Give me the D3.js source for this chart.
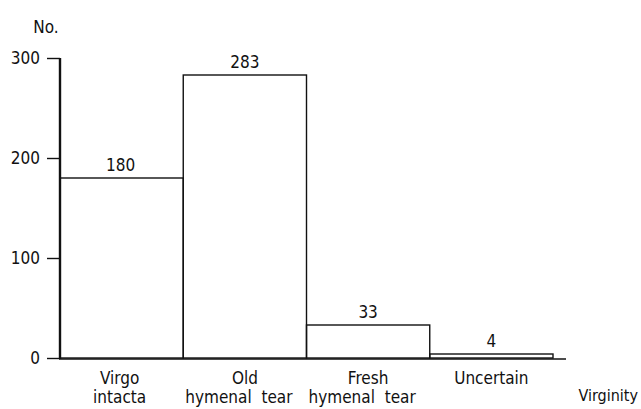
<!DOCTYPE html>
<html><head><meta charset="utf-8">
<script src="https://cdn.jsdelivr.net/npm/d3@7"></script>
<style>body{margin:0;background:#fff}svg{display:block}
text{font-family:"DejaVu Sans Condensed","DejaVu Sans",sans-serif;font-stretch:condensed;fill:#111}</style>
</head><body><svg id="c" width="641" height="409"></svg>
<script>
const categories = ["Virgo intacta","Old hymenal tear","Fresh hymenal tear","Uncertain"];
const labelLine1 = ["Virgo","Old","Fresh","Uncertain"];
const labelLine2 = ["intacta","hymenal  tear","hymenal  tear",""];
const values = [180, 283, 33, 4];
const yTicks = [0, 100, 200, 300];

const FS = 17;
const svg = d3.select("#c");
const x = d3.scaleBand().domain(categories).range([60, 553]).padding(0);
const y = d3.scaleLinear().domain([0, 300]).range([358, 58]);

// bars
svg.selectAll("rect.bar").data(values).join("rect")
  .attr("x", (d,i) => x(categories[i]))
  .attr("y", d => y(d))
  .attr("width", x.bandwidth())
  .attr("height", d => y(0) - y(d))
  .attr("fill", "none").attr("stroke", "#111").attr("stroke-width", 1.4);

// value labels
svg.selectAll("text.val").data(values).join("text")
  .attr("x", (d,i) => x(categories[i]) + x.bandwidth()/2 + (i===0?-1:0))
  .attr("y", d => y(d) - 7)
  .attr("text-anchor", "middle").attr("font-size", FS)
  .text(d => d);

// y axis
const yAxis = d3.axisLeft(y).tickValues(yTicks).tickSize(13).tickPadding(7);
const gy = svg.append("g").attr("transform", "translate(60,0)").call(yAxis);
gy.select(".domain").remove();
gy.selectAll(".tick line").attr("stroke", "#111").attr("stroke-width", 1.4);
gy.selectAll(".tick text").attr("font-size", FS).attr("font-family", null).attr("fill", "#111");
gy.attr("font-family", null).attr("font-size", null);
svg.append("line").attr("x1", 60).attr("x2", 60).attr("y1", y(300)).attr("y2", y(0)+1)
  .attr("stroke", "#111").attr("stroke-width", 2.4);

// x baseline
svg.append("line").attr("x1", 59).attr("x2", 566).attr("y1", y(0)+1).attr("y2", y(0)+1)
  .attr("stroke", "#111").attr("stroke-width", 1.6);

// category labels
svg.selectAll("text.c1").data(labelLine1).join("text")
  .attr("x", (d,i) => x(categories[i]) + x.bandwidth()/2 + (i===0?-2:0))
  .attr("y", 384).attr("text-anchor", "middle").attr("font-size", FS)
  .text(d => d);
svg.selectAll("text.c2").data(labelLine2).join("text")
  .attr("x", (d,i) => x(categories[i]) + x.bandwidth()/2 + (i===0?-2:-6))
  .attr("y", 403).attr("text-anchor", "middle").attr("font-size", FS)
  .attr("xml:space", "preserve").style("white-space", "pre")
  .text(d => d);

// axis titles
svg.append("text").attr("x", 46).attr("y", 33).attr("text-anchor", "middle").attr("font-size", FS).text("No.");
svg.append("text").attr("x", 638).attr("y", 401).attr("text-anchor", "end").attr("font-size", 16).text("Virginity");
</script></body></html>
